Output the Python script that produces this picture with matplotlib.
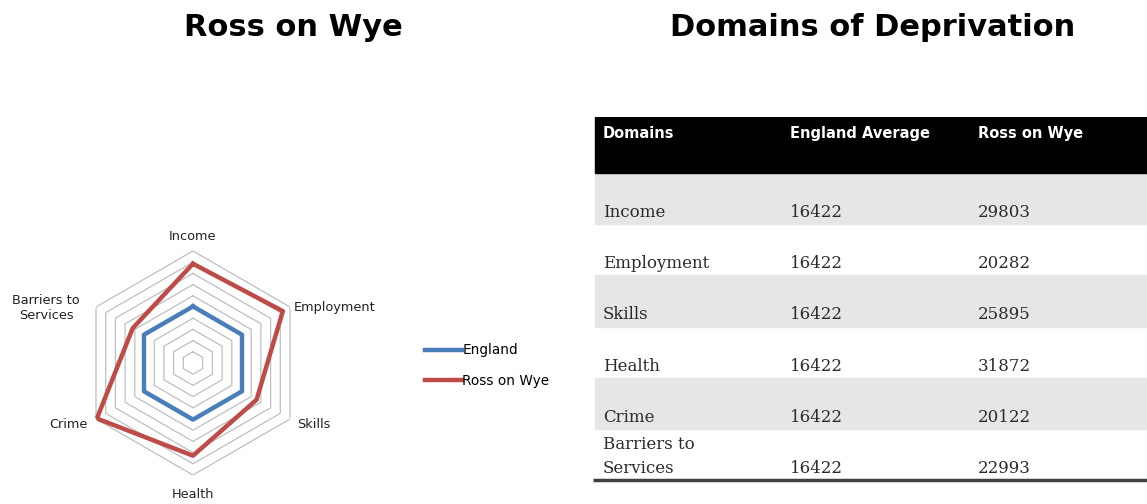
import numpy as np
import matplotlib
matplotlib.use("Agg")
import matplotlib.pyplot as plt
from matplotlib.patches import Rectangle

# radar data
domains = ["Income", "Employment", "Skills", "Health", "Crime", "Barriers to\nServices"]
england = [16422, 16422, 16422, 16422, 16422, 16422]
ross = [28800, 30100, 21300, 26900, 32200, 20200]
r_max = 32500
n_rings = 10

# table data
tbl_header = ["Domains", "England Average", "Ross on Wye"]
tbl_domains = ["Income", "Employment", "Skills", "Health", "Crime", "Barriers to\nServices"]
tbl_england = [16422, 16422, 16422, 16422, 16422, 16422]
tbl_ross = [29803, 20282, 25895, 31872, 20122, 22993]

W, H = 1147, 504
fig = plt.figure(figsize=(W / 100, H / 100), dpi=100)

fig.text(293 / W, 1 - 28 / H, "Ross on Wye", ha="center", va="center",
         fontsize=22, fontweight="bold", family="DejaVu Sans")
fig.text(873 / W, 1 - 28 / H, "Domains of Deprivation", ha="center", va="center",
         fontsize=22, fontweight="bold", family="DejaVu Sans")

# ---- radar ----
cx, cy, R = 193, 363, 112
ax = fig.add_axes([(cx - R) / W, (H - cy - R) / H, 2 * R / W, 2 * R / H], polar=True)
ax.set_theta_zero_location("N")
ax.set_theta_direction(-1)
ax.set_ylim(0, r_max)
ax.axis("off")

ang = np.linspace(0, 2 * np.pi, len(domains), endpoint=False)
ang_c = np.append(ang, ang[0])

for k in range(1, n_rings + 1):
    lvl = r_max * k / n_rings
    ax.plot(ang_c, [lvl] * len(ang_c), color="#bfbfbf", lw=0.9, zorder=1)

ax.plot(ang_c, england + england[:1], color="#4a7ebb", lw=3.2, label="England", zorder=3)
ax.plot(ang_c, ross + ross[:1], color="#be4b48", lw=3.2, label="Ross on Wye", zorder=3)

offs = [(0, 14, "center"), (4, 0, "left"), (7, -6, "left"),
        (0, -20, "center"), (-8, -6, "right"), (-16, -1, "right")]
for a, name, (dx, dy, ha) in zip(ang, domains, offs):
    ax.annotate(name, xy=(a, r_max), xytext=(dx, dy), textcoords="offset pixels",
                ha=ha, va="center", multialignment="center", fontsize=9.3,
                color="#222222", annotation_clip=False)

ax.legend(loc="center left", bbox_to_anchor=(425 / W, 1 - 365.5 / H),
          bbox_transform=fig.transFigure, frameon=False, fontsize=9.8,
          handlelength=2.7, handletextpad=0.05, labelspacing=1.2,
          borderpad=0, borderaxespad=0)

# ---- table ----
tx0, tx1, ty0, ty1 = 593, 1147, 117, 480
tax = fig.add_axes([tx0 / W, (H - ty1) / H, (tx1 - tx0) / W, (ty1 - ty0) / H])
hdr_h = 1.1
n = len(tbl_domains)
tax.set_xlim(0, tx1 - tx0)
tax.set_ylim(hdr_h + n, 0)
tax.axis("off")

col_x = [10, 197, 385]
tax.add_patch(Rectangle((2, 0), tx1 - tx0, hdr_h, color="black", zorder=1))
for x, lab in zip(col_x, tbl_header):
    tax.text(x, 0.32, lab, color="white", fontsize=10.5, fontweight="bold",
             family="DejaVu Sans", va="center", ha="left")

for i in range(n):
    top = hdr_h + i
    if i % 2 == 0:
        tax.add_patch(Rectangle((2, top), tx1 - tx0, 1, color="#e6e6e6", zorder=0))
    base = top + 0.86
    for x, val in zip(col_x, [tbl_domains[i], tbl_england[i], tbl_ross[i]]):
        tax.text(x, base, str(val), fontsize=12, family="DejaVu Serif",
                 color="#2b2b2b", va="baseline", ha="left", linespacing=1.55)

tax.plot([0, tx1 - tx0], [hdr_h + n, hdr_h + n], color="#404040", lw=2.5,
         solid_capstyle="butt", clip_on=False)

fig.savefig("out.png", dpi=100)
